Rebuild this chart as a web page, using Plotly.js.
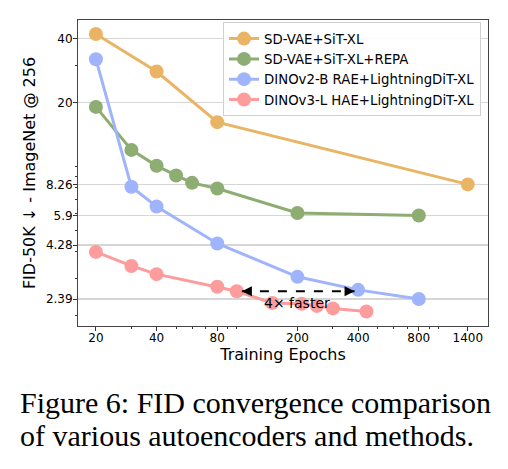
<!DOCTYPE html>
<html>
<head>
<meta charset="utf-8">
<script src="https://cdn.plot.ly/plotly-3.0.1.min.js"></script>
<style>
  html, body { margin: 0; padding: 0; background: #ffffff; }
  #chart { width: 508px; height: 469px; }
</style>
</head>
<body>
<div id="chart"></div>
<script>
// ---- data ----
const seriesNames = [
  "SD-VAE+SiT-XL",
  "SD-VAE+SiT-XL+REPA",
  "DINOv2-B RAE+LightningDiT-XL",
  "DINOv3-L HAE+LightningDiT-XL"
];
const sdvaeEpochs = [20, 40, 80, 1400];
const sdvaeFID = [42.0, 28.0, 16.2, 8.26];
const repaEpochs = [20, 30, 40, 50, 60, 80, 200, 800];
const repaFID = [19.1, 12.0, 10.1, 9.1, 8.4, 7.9, 6.06, 5.9];
const raeEpochs = [20, 30, 40, 80, 200, 400, 800];
const raeFID = [32.0, 8.05, 6.5, 4.36, 3.04, 2.64, 2.39];
const haeEpochs = [20, 30, 40, 80, 100, 150, 210, 250, 300, 440];
const haeFID = [3.98, 3.42, 3.13, 2.73, 2.60, 2.29, 2.27, 2.22, 2.16, 2.09];

const xTickVals = [20, 40, 80, 200, 400, 800, 1400];
const xTickText = ["20", "40", "80", "200", "400", "800", "1400"];
const yTickVals = [2.39, 4.28, 5.9, 8.26, 20, 40];
const yTickText = ["2.39", "4.28", "5.9", "8.26", "20", "40"];

// speed-up arrow (from HAE @100 to RAE @400)
const arrowEpochs = [106, 384];
const arrowFID = [2.6, 2.6];
const arrowLabel = "4\u00d7 faster";
const arrowLabelPos = [200, 2.3];

const captionLines = [
  "Figure 6: FID convergence comparison",
  "of various autoencoders and methods."
];

const colors = ["#E9B565", "#8DAD72", "#9FB4FC", "#FD9C9C"];

// ---- traces ----
const xs = [sdvaeEpochs, repaEpochs, raeEpochs, haeEpochs];
const ys = [sdvaeFID, repaFID, raeFID, haeFID];
const traces = xs.map((x, i) => ({
  x: x, y: ys[i], name: seriesNames[i],
  type: "scatter", mode: "lines+markers",
  line: { color: colors[i], width: 3 },
  marker: { color: colors[i], size: 14 },
  hoverinfo: "skip"
}));
traces.push({
  x: arrowEpochs, y: arrowFID, type: "scatter", mode: "lines",
  line: { color: "#000000", width: 2, dash: "dash" },
  showlegend: false, hoverinfo: "skip"
});

const font = "DejaVu Sans, sans-serif";
const L = Math.log10;

const annotations = [
  { x: L(arrowEpochs[1]), y: L(arrowFID[1]), xref: "x", yref: "y",
    ax: -11, ay: 0, showarrow: true, arrowhead: 2, arrowsize: 1, arrowwidth: 2,
    arrowcolor: "#000000", text: "" },
  { x: L(arrowEpochs[0]), y: L(arrowFID[0]), xref: "x", yref: "y",
    ax: 11, ay: 0, showarrow: true, arrowhead: 2, arrowsize: 1, arrowwidth: 2,
    arrowcolor: "#000000", text: "" },
  { x: L(arrowLabelPos[0]), y: L(arrowLabelPos[1]), xref: "x", yref: "y",
    showarrow: false, text: arrowLabel, font: { family: font, size: 14, color: "#000000" } },
  { x: -0.1463, y: -0.2516, xref: "paper", yref: "paper", xanchor: "left", yanchor: "middle",
    showarrow: false, text: captionLines[0],
    font: { family: "Liberation Serif, Times New Roman, serif", size: 30, color: "#000000" } },
  { x: -0.1463, y: -0.358, xref: "paper", yref: "paper", xanchor: "left", yanchor: "middle",
    showarrow: false, text: captionLines[1],
    font: { family: "Liberation Serif, Times New Roman, serif", size: 30, color: "#000000" } }
];

const layout = {
  width: 508, height: 469,
  margin: { l: 78, r: 20, t: 20, b: 143 },
  paper_bgcolor: "#ffffff", plot_bgcolor: "#ffffff",
  font: { family: font, size: 12, color: "#000000" },
  showlegend: true,
  legend: {
    x: 0.983, y: 0.992, xanchor: "right", yanchor: "top",
    bgcolor: "rgba(255,255,255,0.85)", bordercolor: "#d0d0d0", borderwidth: 1,
    font: { family: font, size: 13.3, color: "#000000" },
    tracegroupgap: 0
  },
  xaxis: {
    type: "log", range: [L(16.3), L(1764)],
    tickmode: "array", tickvals: xTickVals, ticktext: xTickText,
    ticks: "outside", ticklen: 4, tickcolor: "#333333",
    ticklabelstandoff: -3,
    showgrid: false, zeroline: false,
    showline: true, linecolor: "#444444", linewidth: 1, mirror: true,
    tickfont: { family: font, size: 12, color: "#000000" },
    minor: { ticks: "outside", ticklen: 2, tickcolor: "#333333", dtick: "D1", showgrid: false },
    title: { text: "Training Epochs", font: { family: font, size: 16, color: "#000000" }, standoff: 4 }
  },
  yaxis: {
    type: "log", range: [L(1.786), L(48.9)],
    tickmode: "array", tickvals: yTickVals, ticktext: yTickText,
    ticks: "outside", ticklen: 4, tickcolor: "#333333",
    ticklabelstandoff: -2,
    showgrid: true, gridcolor: "#d6d6d6", gridwidth: 1.5, zeroline: false,
    showline: true, linecolor: "#444444", linewidth: 1, mirror: true,
    tickfont: { family: font, size: 12, color: "#000000" },
    minor: { ticks: "outside", ticklen: 2, tickcolor: "#333333", dtick: "D1", showgrid: false },
    title: { text: "FID-50K \u2193 - ImageNet @ 256", font: { family: font, size: 16, color: "#000000" }, standoff: 6 }
  },
  annotations: annotations
};

Plotly.newPlot("chart", traces, layout, { staticPlot: true, displayModeBar: false });
</script>
</body>
</html>
